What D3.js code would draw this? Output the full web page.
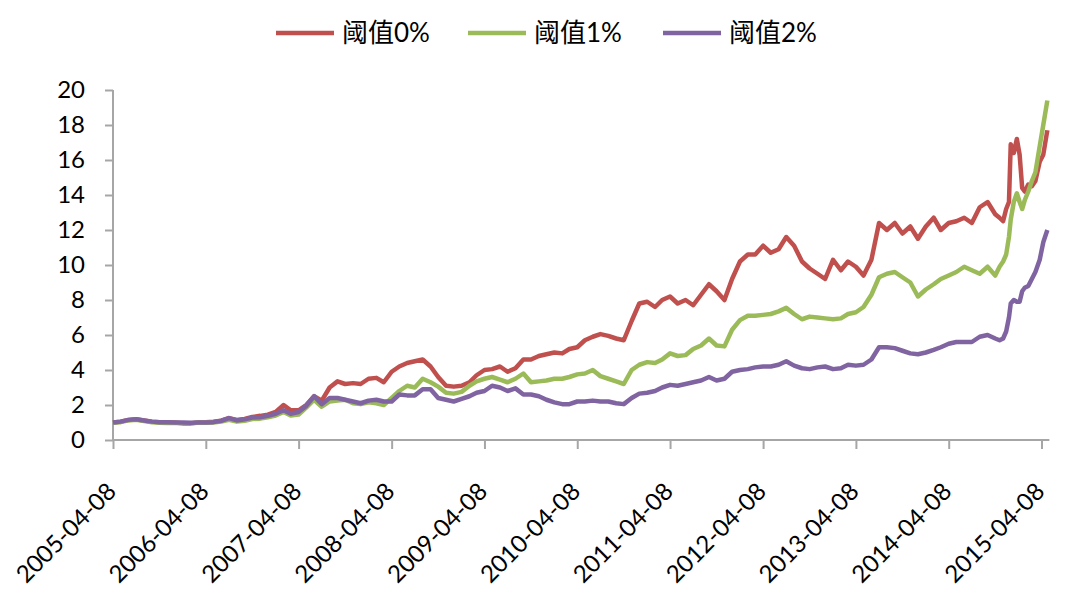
<!DOCTYPE html>
<html>
<head>
<meta charset="utf-8">
<script src="https://cdn.jsdelivr.net/npm/d3@7/dist/d3.min.js"></script>
<style>
body{margin:0;background:#fff;}
svg{display:block;font-family:Lato,"Noto Sans CJK SC",sans-serif;}
</style>
</head>
<body>
<svg id="chart" width="1065" height="612"></svg>
<script>
// monthly points (8th of each month) from 2005-04 to 2014-09, then a finer tail
var tailDates=["2014-10-08","2014-10-25","2014-11-08","2014-11-20","2014-12-01","2014-12-08","2014-12-20",
    "2015-01-01","2015-01-12","2015-01-22","2015-02-01","2015-02-15","2015-03-01","2015-03-15",
    "2015-04-01","2015-04-15","2015-05-01"];

var names=["阈值0%","阈值1%","阈值2%"];
var colors=["#c0504d","#9bbb59","#8064a2"];

var red=[1.0,1.05,1.15,1.18,1.12,1.05,1.02,1.0,1.0,0.95,
    0.95,1.0,1.02,1.05,1.1,1.25,1.15,1.2,1.32,1.38,
    1.45,1.6,2.0,1.7,1.7,2.0,2.5,2.25,3.0,3.35,
    3.2,3.25,3.2,3.5,3.55,3.3,3.9,4.2,4.4,4.5,
    4.6,4.2,3.6,3.1,3.05,3.1,3.3,3.7,4.0,4.05,
    4.2,3.9,4.1,4.6,4.6,4.8,4.9,5.0,4.95,5.2,
    5.3,5.7,5.9,6.05,5.95,5.8,5.7,6.8,7.8,7.9,
    7.6,8.0,8.2,7.8,8.0,7.7,8.3,8.9,8.5,8.0,
    9.2,10.2,10.6,10.6,11.1,10.7,10.9,11.6,11.1,10.2,
    9.8,9.5,9.2,10.3,9.7,10.2,9.9,9.4,10.3,12.4,
    12.0,12.4,11.8,12.2,11.5,12.2,12.7,12.0,12.4,12.5,
    12.7,12.4,13.3,13.6,
    12.9,12.7,12.5,13.2,13.6,16.9,16.4,17.2,16.3,14.4,14.2,14.6,14.5,14.8,15.9,16.3,17.7];

var green=[0.98,1.02,1.12,1.15,1.08,1.02,0.98,0.97,0.97,0.96,
    0.96,0.98,0.99,1.0,1.05,1.15,1.05,1.1,1.2,1.22,
    1.3,1.4,1.6,1.4,1.45,1.85,2.3,1.9,2.2,2.25,
    2.3,2.1,2.05,2.15,2.1,2.0,2.4,2.8,3.1,3.0,
    3.5,3.3,3.05,2.7,2.65,2.75,3.1,3.35,3.5,3.6,
    3.45,3.3,3.5,3.8,3.3,3.35,3.4,3.5,3.5,3.6,
    3.75,3.8,4.0,3.65,3.5,3.35,3.2,4.0,4.3,4.45,
    4.4,4.6,4.95,4.8,4.85,5.2,5.4,5.8,5.4,5.35,
    6.3,6.85,7.1,7.1,7.15,7.2,7.35,7.55,7.2,6.9,
    7.05,7.0,6.95,6.9,6.95,7.2,7.3,7.6,8.3,9.3,
    9.5,9.6,9.3,9.0,8.2,8.6,8.9,9.2,9.4,9.6,
    9.9,9.7,9.5,9.9,
    9.4,9.9,10.2,10.6,11.6,12.6,13.6,14.1,13.6,13.2,13.7,14.2,14.8,15.3,16.8,18.0,19.4];

var purple=[1.0,1.05,1.15,1.18,1.12,1.05,1.02,1.02,1.0,1.0,
    0.98,1.0,1.0,1.02,1.1,1.25,1.12,1.18,1.28,1.3,
    1.38,1.5,1.7,1.5,1.6,1.95,2.5,2.05,2.4,2.4,
    2.3,2.2,2.1,2.25,2.3,2.2,2.2,2.6,2.55,2.55,
    2.9,2.9,2.4,2.3,2.2,2.35,2.5,2.7,2.8,3.1,
    3.0,2.8,2.95,2.6,2.6,2.5,2.3,2.15,2.05,2.05,
    2.2,2.2,2.25,2.2,2.2,2.1,2.05,2.4,2.65,2.7,
    2.8,3.0,3.15,3.1,3.2,3.3,3.4,3.6,3.4,3.5,
    3.9,4.0,4.05,4.15,4.2,4.2,4.3,4.5,4.25,4.1,
    4.05,4.15,4.2,4.05,4.1,4.3,4.25,4.3,4.6,5.3,
    5.3,5.25,5.1,4.95,4.9,5.0,5.15,5.3,5.5,5.6,
    5.6,5.6,5.9,6.0,
    5.8,5.7,5.8,6.2,7.0,7.8,8.0,7.9,7.9,8.5,8.7,8.8,9.2,9.6,10.3,11.3,12.0];

var yTicks=[0,2,4,6,8,10,12,14,16,18,20];
var xTicks=["2005-04-08","2006-04-08","2007-04-08","2008-04-08","2009-04-08","2010-04-08",
    "2011-04-08","2012-04-08","2013-04-08","2014-04-08","2015-04-08"];

var parse=d3.timeParse("%Y-%m-%d");
var fmt=d3.timeFormat("%Y-%m-%d");

var dates=[];
var start=parse("2005-04-08");
for(var m=0;m<114;m++){
    dates.push(d3.timeMonth.offset(start,m));
}
for(var i=0;i<tailDates.length;i++){
    dates.push(parse(tailDates[i]));
}

var series=[red,green,purple];

var svg=d3.select("#chart");

var x=d3.scaleTime()
    .domain([parse("2005-04-08"),parse("2015-04-08")])
    .range([113,1041.5]);
var y=d3.scaleLinear().domain([0,20]).range([440,90]);

var axisColor="#a6a6a6";

// y axis
var gy=svg.append("g").attr("transform","translate(113,0)")
    .call(d3.axisLeft(y).tickValues(yTicks).tickSize(8).tickPadding(20).tickFormat(d3.format("d")));
gy.select(".domain").remove();
gy.selectAll(".tick line").attr("stroke",axisColor).attr("stroke-width",2);
gy.selectAll(".tick text").attr("fill","#000").style("font-size","24px").style("font-family","Lato");
svg.append("line")
    .attr("x1",113).attr("x2",113)
    .attr("y1",y(20)).attr("y2",y(0)+1)
    .attr("stroke",axisColor).attr("stroke-width",2);

// x axis
var gx=svg.append("g").attr("transform","translate(0,440)")
    .call(d3.axisBottom(x).tickValues(xTicks.map(parse)).tickSize(9).tickFormat(fmt));
gx.select(".domain").remove();
gx.selectAll(".tick line").attr("stroke",axisColor).attr("stroke-width",2);
gx.selectAll(".tick text")
    .attr("fill","#000")
    .style("font-size","24px").style("font-family","Lato")
    .attr("text-anchor","end")
    .attr("dy",0).attr("y",0)
    .attr("transform","translate(4,53) rotate(-45)");
svg.append("line")
    .attr("x1",112).attr("x2",x(dates[dates.length-1])+2)
    .attr("y1",440).attr("y2",440)
    .attr("stroke",axisColor).attr("stroke-width",2);

var line=d3.line()
    .x(function(d,i){return x(dates[i]);})
    .y(function(d){return y(d);});

for(var s=0;s<series.length;s++){
    svg.append("path")
        .datum(series[s])
        .attr("d",line)
        .attr("fill","none")
        .attr("stroke",colors[s])
        .attr("stroke-width",4.5)
        .attr("stroke-linejoin","round");
}

// legend
var legendX=[276,468,663];
for(var k=0;k<names.length;k++){
    var lg=svg.append("g").attr("transform","translate("+legendX[k]+",33)");
    lg.append("line")
        .attr("x1",0).attr("x2",58)
        .attr("y1",0).attr("y2",0)
        .attr("stroke",colors[k]).attr("stroke-width",4.5);
    lg.append("text")
        .attr("x",66).attr("y",9)
        .style("font-size","26px")
        .attr("fill","#000")
        .text(names[k]);
}
</script>
</body>
</html>
